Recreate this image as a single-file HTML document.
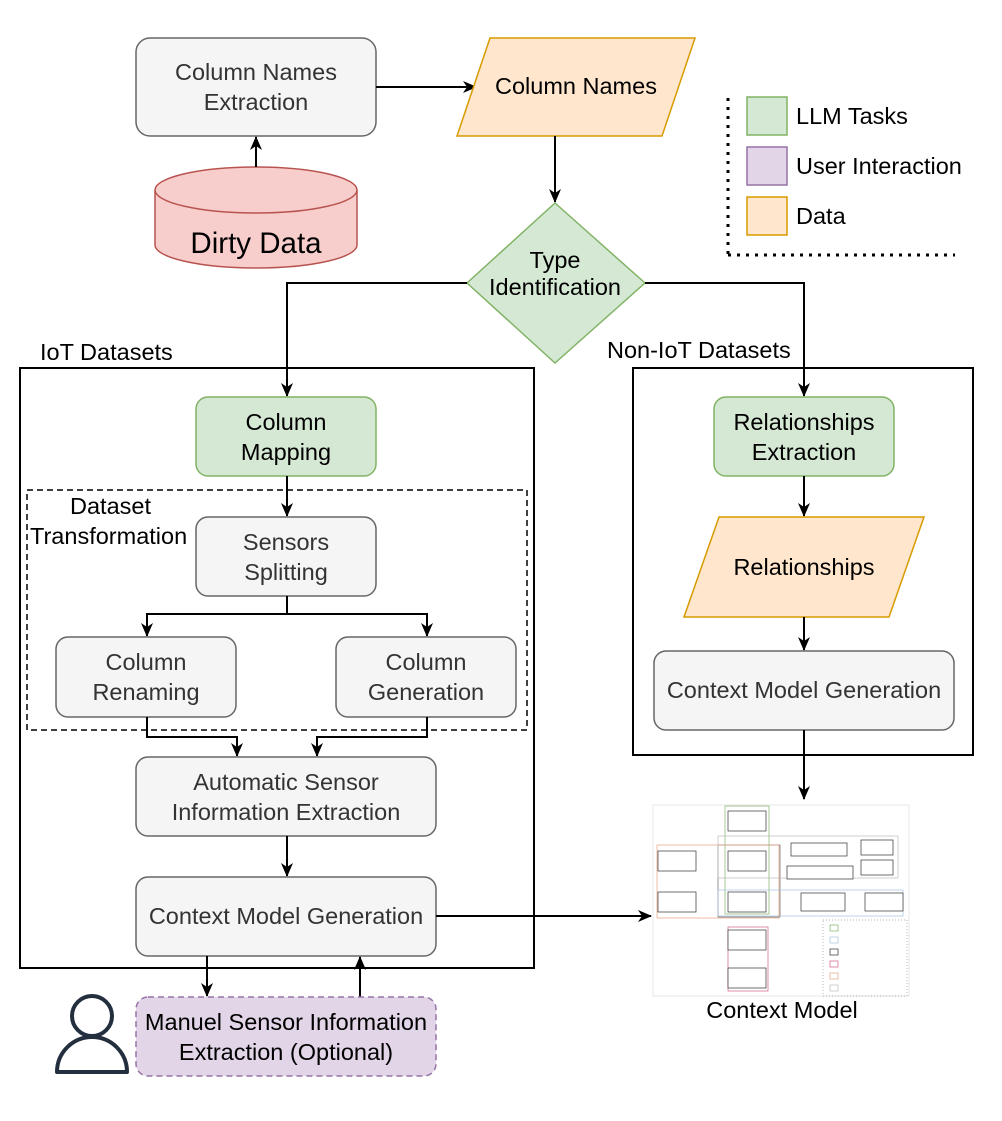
<!DOCTYPE html>
<html><head><meta charset="utf-8"><style>
html,body{margin:0;padding:0;background:#fff;}
svg{display:block;font-family:"Liberation Sans",Arial,sans-serif;}
</style></head><body>
<svg width="1002" height="1121" viewBox="0 0 1002 1121" xmlns="http://www.w3.org/2000/svg">
<defs>
<marker id="a" markerWidth="14" markerHeight="14" refX="13" refY="7" orient="auto" markerUnits="userSpaceOnUse">
<path d="M0,1 L14,7 L0,13 L4,7 z" fill="#000"/></marker>
</defs>
<g font-size="23.5" text-anchor="middle">
<rect x="136" y="38" width="240" height="98" rx="14" fill="#f5f5f5" stroke="#666" stroke-width="1.5"/>
<text x="256" y="80" fill="#333">Column Names</text><text x="256" y="110" fill="#333">Extraction</text>
<line x1="376" y1="87" x2="476" y2="87" stroke="#000" stroke-width="2" marker-end="url(#a)"/>
<polygon points="490,38 695,38 662,136 457,136" fill="#ffe6cc" stroke="#d79b00" stroke-width="1.5"/>
<text x="576" y="94">Column Names</text>
<line x1="555" y1="136" x2="555" y2="202" stroke="#000" stroke-width="2" marker-end="url(#a)"/>
<polygon points="555,203 645,283 555,363 467,283" fill="#d5e8d4" stroke="#82b366" stroke-width="1.5"/>
<text x="555" y="268">Type</text><text x="555" y="295">Identification</text>
<path d="M155,190 L155,245 A101,23 0 0 0 357,245 L357,190" fill="#f8cecc" stroke="#b85450" stroke-width="1.5"/>
<ellipse cx="256" cy="190" rx="101" ry="23" fill="#f8cecc" stroke="#b85450" stroke-width="1.5"/>
<text x="256" y="253" font-size="29.5">Dirty Data</text>
<line x1="256" y1="167" x2="256" y2="137" stroke="#000" stroke-width="2" marker-end="url(#a)"/>
<line x1="728" y1="98" x2="728" y2="255" stroke="#000" stroke-width="3" stroke-dasharray="3,6"/>
<line x1="728" y1="255" x2="955" y2="255" stroke="#000" stroke-width="3" stroke-dasharray="3,6"/>
<rect x="747" y="97" width="40" height="38" fill="#d5e8d4" stroke="#82b366" stroke-width="1.5"/>
<rect x="747" y="147" width="40" height="38" fill="#e1d5e7" stroke="#9673a6" stroke-width="1.5"/>
<rect x="747" y="197" width="40" height="38" fill="#ffe6cc" stroke="#d79b00" stroke-width="1.5"/>
<g text-anchor="start"><text x="796" y="124">LLM Tasks</text><text x="796" y="174">User Interaction</text><text x="796" y="224">Data</text>
<text x="40" y="360">IoT Datasets</text><text x="607" y="358">Non-IoT Datasets</text>
<text x="70" y="514">Dataset</text><text x="30" y="544">Transformation</text></g>
<polyline points="467,283 287,283 287,396" fill="none" stroke="#000" stroke-width="2" marker-end="url(#a)"/>
<polyline points="645,283 804,283 804,396" fill="none" stroke="#000" stroke-width="2" marker-end="url(#a)"/>
<rect x="20" y="368" width="514" height="600" fill="none" stroke="#000" stroke-width="2"/>
<rect x="633" y="368" width="340" height="387" fill="none" stroke="#000" stroke-width="2"/>
<rect x="196" y="397" width="180" height="79" rx="12" fill="#d5e8d4" stroke="#82b366" stroke-width="1.5"/>
<text x="286" y="430">Column</text><text x="286" y="460">Mapping</text>
<rect x="27" y="490" width="500" height="240" fill="none" stroke="#000" stroke-width="1.5" stroke-dasharray="6,4"/>
<line x1="287" y1="476" x2="287" y2="516" stroke="#000" stroke-width="2" marker-end="url(#a)"/>
<rect x="196" y="517" width="180" height="79" rx="12" fill="#f5f5f5" stroke="#666" stroke-width="1.5"/>
<text x="286" y="550" fill="#333">Sensors</text><text x="286" y="580" fill="#333">Splitting</text>
<polyline points="287,596 287,614 147,614 147,636" fill="none" stroke="#000" stroke-width="2" marker-end="url(#a)"/>
<polyline points="287,614 427,614 427,636" fill="none" stroke="#000" stroke-width="2" marker-end="url(#a)"/>
<rect x="56" y="637" width="180" height="80" rx="12" fill="#f5f5f5" stroke="#666" stroke-width="1.5"/>
<text x="146" y="670" fill="#333">Column</text><text x="146" y="700" fill="#333">Renaming</text>
<rect x="336" y="637" width="180" height="80" rx="12" fill="#f5f5f5" stroke="#666" stroke-width="1.5"/>
<text x="426" y="670" fill="#333">Column</text><text x="426" y="700" fill="#333">Generation</text>
<polyline points="147,717 147,737 237,737 237,756" fill="none" stroke="#000" stroke-width="2" marker-end="url(#a)"/>
<polyline points="427,717 427,737 317,737 317,756" fill="none" stroke="#000" stroke-width="2" marker-end="url(#a)"/>
<rect x="136" y="757" width="300" height="79" rx="12" fill="#f5f5f5" stroke="#666" stroke-width="1.5"/>
<text x="286" y="790" fill="#333">Automatic Sensor</text><text x="286" y="820" fill="#333">Information Extraction</text>
<line x1="287" y1="836" x2="287" y2="876" stroke="#000" stroke-width="2" marker-end="url(#a)"/>
<rect x="136" y="877" width="300" height="79" rx="12" fill="#f5f5f5" stroke="#666" stroke-width="1.5"/>
<text x="286" y="924" fill="#333">Context Model Generation</text>
<line x1="436" y1="916" x2="651" y2="916" stroke="#000" stroke-width="2" marker-end="url(#a)"/>
<line x1="207" y1="956" x2="207" y2="996" stroke="#000" stroke-width="2" marker-end="url(#a)"/>
<line x1="360" y1="997" x2="360" y2="957" stroke="#000" stroke-width="2" marker-end="url(#a)"/>
<rect x="136" y="997" width="300" height="79" rx="12" fill="#e1d5e7" stroke="#9673a6" stroke-width="1.5" stroke-dasharray="6,4"/>
<text x="286" y="1030">Manuel Sensor Information</text><text x="286" y="1060">Extraction (Optional)</text>
<circle cx="92" cy="1016" r="20" fill="none" stroke="#232f3e" stroke-width="4"/>
<path d="M57,1072 A35,35 0 0 1 127,1072 Z" fill="none" stroke="#232f3e" stroke-width="4" stroke-linejoin="round"/>
<rect x="714" y="397" width="180" height="79" rx="12" fill="#d5e8d4" stroke="#82b366" stroke-width="1.5"/>
<text x="804" y="430">Relationships</text><text x="804" y="460">Extraction</text>
<line x1="804" y1="476" x2="804" y2="516" stroke="#000" stroke-width="2" marker-end="url(#a)"/>
<polygon points="719,517 924,517 889,617 684,617" fill="#ffe6cc" stroke="#d79b00" stroke-width="1.5"/>
<text x="804" y="575">Relationships</text>
<line x1="804" y1="617" x2="804" y2="650" stroke="#000" stroke-width="2" marker-end="url(#a)"/>
<rect x="654" y="651" width="300" height="79" rx="12" fill="#f5f5f5" stroke="#666" stroke-width="1.5"/>
<text x="804" y="698" fill="#333">Context Model Generation</text>
<line x1="804" y1="730" x2="804" y2="799" stroke="#000" stroke-width="2" marker-end="url(#a)"/>
<text x="782" y="1018">Context Model</text>
</g>
<g stroke-width="0.7" fill="#fff">
<rect x="653" y="805" width="256" height="191" fill="#fff" stroke="#ddd"/>
<rect x="725" y="806" width="44" height="108" fill="none" stroke="#82b366"/>
<rect x="718" y="845" width="62" height="72" fill="none" stroke="#666"/>
<rect x="657" y="845" width="122" height="73" fill="none" stroke="#e8a080"/>
<rect x="718" y="836" width="180" height="42" fill="none" stroke="#bbb"/>
<rect x="718" y="890" width="185" height="26" fill="none" stroke="#a8c4e0"/>
<rect x="728" y="927" width="40" height="64" fill="none" stroke="#d06080"/>
<rect x="728" y="811" width="38" height="20" stroke="#333"/>
<rect x="728" y="851" width="38" height="20" stroke="#333"/>
<rect x="728" y="892" width="38" height="20" stroke="#333"/>
<rect x="728" y="930" width="38" height="20" stroke="#333"/>
<rect x="728" y="968" width="38" height="20" stroke="#333"/>
<rect x="658" y="851" width="38" height="20" stroke="#333"/>
<rect x="658" y="892" width="38" height="20" stroke="#333"/>
<rect x="791" y="843" width="56" height="13" stroke="#333"/>
<rect x="787" y="866" width="66" height="13" stroke="#333"/>
<rect x="861" y="840" width="32" height="15" stroke="#333"/>
<rect x="861" y="860" width="32" height="15" stroke="#333"/>
<rect x="801" y="893" width="44" height="18" stroke="#333"/>
<rect x="865" y="893" width="38" height="18" stroke="#333"/>
<rect x="823" y="920" width="84" height="76" fill="none" stroke="#999" stroke-dasharray="1,2"/>
<rect x="830" y="925" width="8" height="6" stroke="#82b366"/>
<rect x="830" y="937" width="8" height="6" stroke="#a8c4e0"/>
<rect x="830" y="949" width="8" height="6" stroke="#333"/>
<rect x="830" y="961" width="8" height="6" stroke="#d06080"/>
<rect x="830" y="973" width="8" height="6" stroke="#e8a080"/>
<rect x="830" y="985" width="8" height="6" stroke="#bbb"/>
</g>
</svg>
</body></html>
